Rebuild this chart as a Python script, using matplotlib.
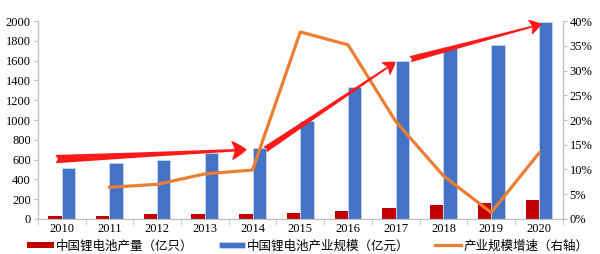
import matplotlib.pyplot as plt
import numpy as np

years = ['2010', '2011', '2012', '2013', '2014', '2015', '2016', '2017', '2018', '2019', '2020']
output = [25, 30, 45, 47, 53, 56, 82, 108, 137, 158, 192]          # 亿只
scale = [520, 565, 595, 670, 720, 988, 1333, 1597, 1733, 1756, 1987]  # 亿元
growth = [None, 6.4, 7.0, 9.1, 9.9, 37.8, 35.2, 19.7, 8.7, 1.3, 13.3]  # %

# trend arrows (category position, left-axis value)
arrow_start = [(-0.13, 605), (4.26, 700), (7.3, 1614)]
arrow_end = [(3.88, 700), (7.0, 1587), (10.06, 1970)]
arrow_size = [(1.1, 1.4, 0.6), (0.9, 1.1, 0.45), (0.9, 1.1, 0.45)]

plt.rcParams['font.family'] = ['Liberation Serif', 'Noto Sans CJK SC', 'DejaVu Sans']

fig = plt.figure(figsize=(6, 2.54), dpi=100)
ax = fig.add_axes([0.063, 0.138, 0.875, 0.779])
ax2 = ax.twinx()

x = np.arange(len(years))
w = 0.28
b1 = ax.bar(x - w / 2, output, w, color='#C00000', label='中国锂电池产量（亿只）', zorder=2)
b2 = ax.bar(x + w / 2, scale, w, color='#4472C4', edgecolor='#DCE4F2', linewidth=0.4,
            label='中国锂电池产业规模（亿元）', zorder=2)

gx = [i for i, g in enumerate(growth) if g is not None]
gy = [g for g in growth if g is not None]
l1, = ax2.plot(gx, gy, color='#ED7D31', linewidth=2.3, label='产业规模增速（右轴）', zorder=3)

ax.set_xlim(-0.5, len(years) - 0.5)
ax.set_ylim(0, 2000)
ax.set_yticks(range(0, 2001, 200))
ax2.set_ylim(0, 40)
ax2.set_yticks(range(0, 41, 5))
ax2.set_yticklabels([f'{v}%' for v in range(0, 41, 5)])

ax.set_xticks(x)
ax.set_xticklabels(years)
ax.set_xticks(np.arange(-0.5, len(years), 1), minor=True)
ax.tick_params(axis='x', which='major', length=0, labelsize=9, pad=3)
ax.tick_params(axis='x', which='minor', length=4, color='#BFBFBF')
ax.tick_params(axis='y', labelsize=9, length=3, color='#BFBFBF', pad=2)
ax2.tick_params(axis='y', labelsize=9, length=3, color='#BFBFBF', pad=2)

for a in (ax, ax2):
    a.spines['top'].set_visible(False)
    for s in ('left', 'right', 'bottom'):
        a.spines[s].set_color('#BFBFBF')

ax2.set_zorder(ax.get_zorder() + 1)
ax2.patch.set_visible(False)

for (sx, sy), (ex, ey), (hl, hw, tw) in zip(arrow_start, arrow_end, arrow_size):
    ax2.annotate('', xy=(ex, ey / 50), xytext=(sx, sy / 50),
                 arrowprops=dict(arrowstyle=f'fancy,head_length={hl},head_width={hw},tail_width={tw}',
                                 color='#FF1A1A', lw=0, shrinkA=0, shrinkB=0),
                 zorder=5)

fig.legend([b1, b2, l1], [b1.get_label(), b2.get_label(), l1.get_label()],
           loc='center left', bbox_to_anchor=(0.035, 0.032), ncol=3, frameon=False,
           handlelength=2.1, handleheight=0.45, columnspacing=2.0, borderpad=0,
           handletextpad=0.2, prop={'family': ['Noto Sans CJK SC', 'DejaVu Sans'], 'size': 9})

fig.savefig('out.png', dpi=100)
